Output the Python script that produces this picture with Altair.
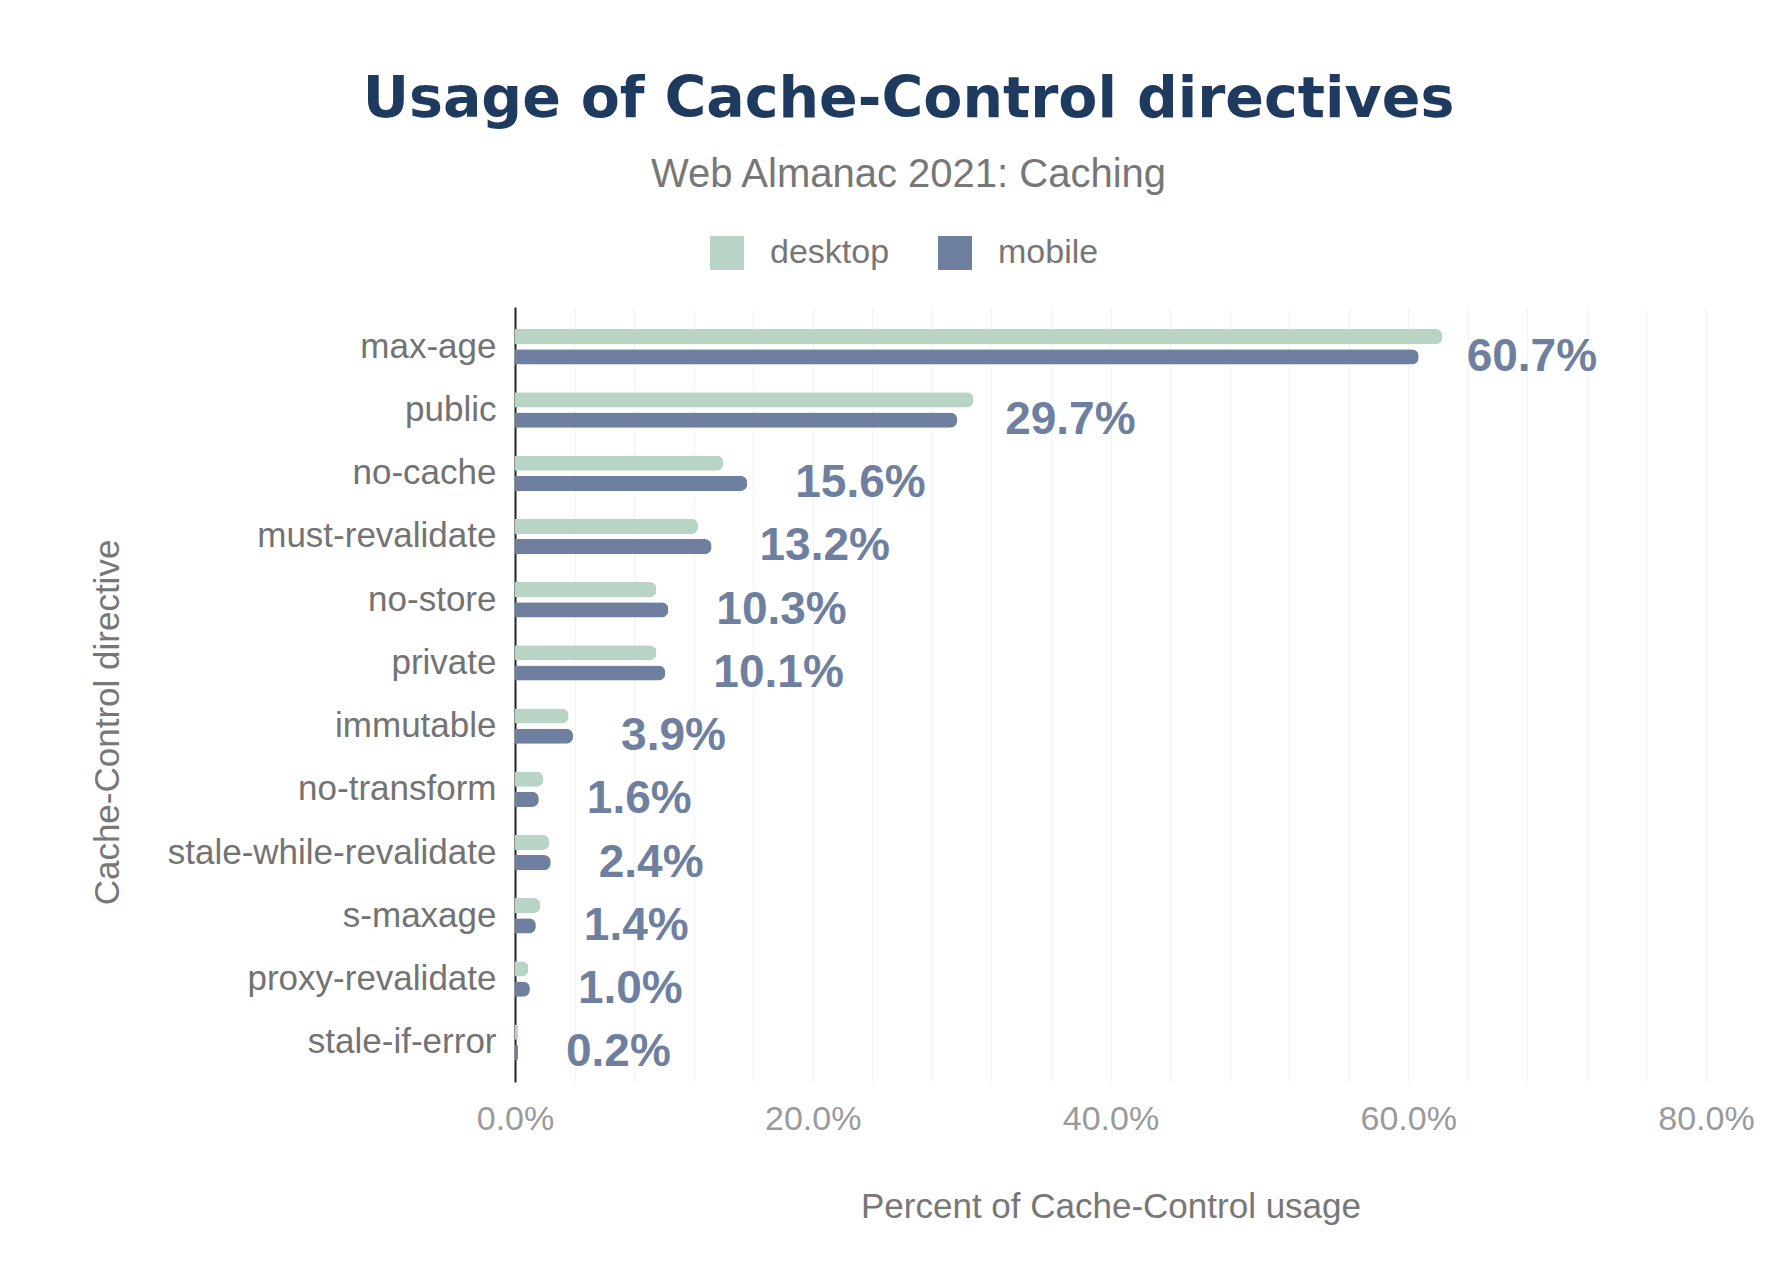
import altair as alt
import pandas as pd

categories = ["max-age", "public", "no-cache", "must-revalidate", "no-store", "private",
              "immutable", "no-transform", "stale-while-revalidate", "s-maxage",
              "proxy-revalidate", "stale-if-error"]
desktop = [62.3, 30.8, 14.0, 12.3, 9.5, 9.5, 3.6, 1.9, 2.3, 1.7, 0.9, 0.2]
mobile = [60.7, 29.7, 15.6, 13.2, 10.3, 10.1, 3.9, 1.6, 2.4, 1.4, 1.0, 0.2]
series = ["desktop", "mobile"]
colors = ["#b7d4c5", "#6e7f9f"]
x_ticks = list(range(0, 81, 4))

rows = []
for c, d, m in zip(categories, desktop, mobile):
    rows.append({"directive": c, "client": "desktop", "pct": d})
    rows.append({"directive": c, "client": "mobile", "pct": m})
df = pd.DataFrame(rows)
labels_df = pd.DataFrame({"directive": categories, "pct": mobile})

LABEL_FONT = "Liberation Sans"

y_enc = alt.Y("directive:N", sort=categories,
              scale=alt.Scale(paddingInner=0.44, paddingOuter=0.35),
              axis=alt.Axis(title="Cache-Control directive", labelFontSize=35,
                            labelColor="#737373", labelFont=LABEL_FONT, ticks=False,
                            labelLimit=0, labelPadding=19, domain=True,
                            domainColor="#222222", domainWidth=2, grid=False,
                            titleFont=LABEL_FONT, titleFontSize=35,
                            titleFontWeight="normal", titleColor="#777777",
                            titleX=-408, titleY=415, titleBaseline="middle",
                            titleAngle=-90))

x_enc = alt.X("pct:Q", scale=alt.Scale(domain=[0, 80], nice=False),
              axis=alt.Axis(title="Percent of Cache-Control usage", values=x_ticks,
                            labelExpr="datum.value % 20 == 0 ? format(datum.value, '.1f') + '%' : ''",
                            labelFontSize=34, labelColor="#9a9a9a", labelFont=LABEL_FONT,
                            labelFlush=False, labelOverlap=False,
                            ticks=False, domain=False, labelPadding=20,
                            grid=True, gridColor="#f4f4f4", gridWidth=1,
                            titleFont=LABEL_FONT, titleFontSize=35,
                            titleFontWeight="normal", titleColor="#777777",
                            titleY=124, titleBaseline="middle"))

bars = alt.Chart(df).mark_bar(cornerRadiusEnd=7).encode(
    y=y_enc,
    x=x_enc,
    yOffset=alt.YOffset("client:N", sort=series,
                        scale=alt.Scale(domain=series, paddingInner=0.25, paddingOuter=0)),
    color=alt.Color("client:N", sort=series,
                    scale=alt.Scale(domain=series, range=colors),
                    legend=alt.Legend(title=None, orient="none", direction="horizontal",
                                      legendX=195, legendY=-71, symbolType="square",
                                      symbolSize=1156, symbolStrokeWidth=0,
                                      labelFontSize=34, labelColor="#777777",
                                      labelFont=LABEL_FONT, labelOffset=26,
                                      columnPadding=48, padding=0)),
)

text = alt.Chart(labels_df).transform_calculate(
    lbl="format(datum.pct, '.1f') + '%'"
).mark_text(
    align="left", baseline="middle", dx=48, dy=10, font=LABEL_FONT,
    fontSize=46, fontWeight="bold", color="#6e7f9f"
).encode(
    y=alt.Y("directive:N", sort=categories),
    x=alt.X("pct:Q"),
    text="lbl:N",
)

chart = alt.layer(bars, text).properties(
    width=1191,
    height=775,
    autosize=alt.AutoSizeParams(type="none"),
    padding={"left": 507, "top": 299, "right": 50, "bottom": 170},
    background="white",
    title=alt.TitleParams(
        text="Usage of Cache-Control directives",
        subtitle="Web Almanac 2021: Caching",
        anchor="middle", frame="group", dx=-202,
        font="DejaVu Sans", fontSize=57, fontWeight="bold", color="#1e3a5f",
        subtitleFont=LABEL_FONT, subtitleFontSize=40, subtitleColor="#777777",
        subtitlePadding=26, offset=40,
    ),
).configure_view(stroke=None)

chart.save("out.html", embed_options={"renderer": "svg", "actions": False})
